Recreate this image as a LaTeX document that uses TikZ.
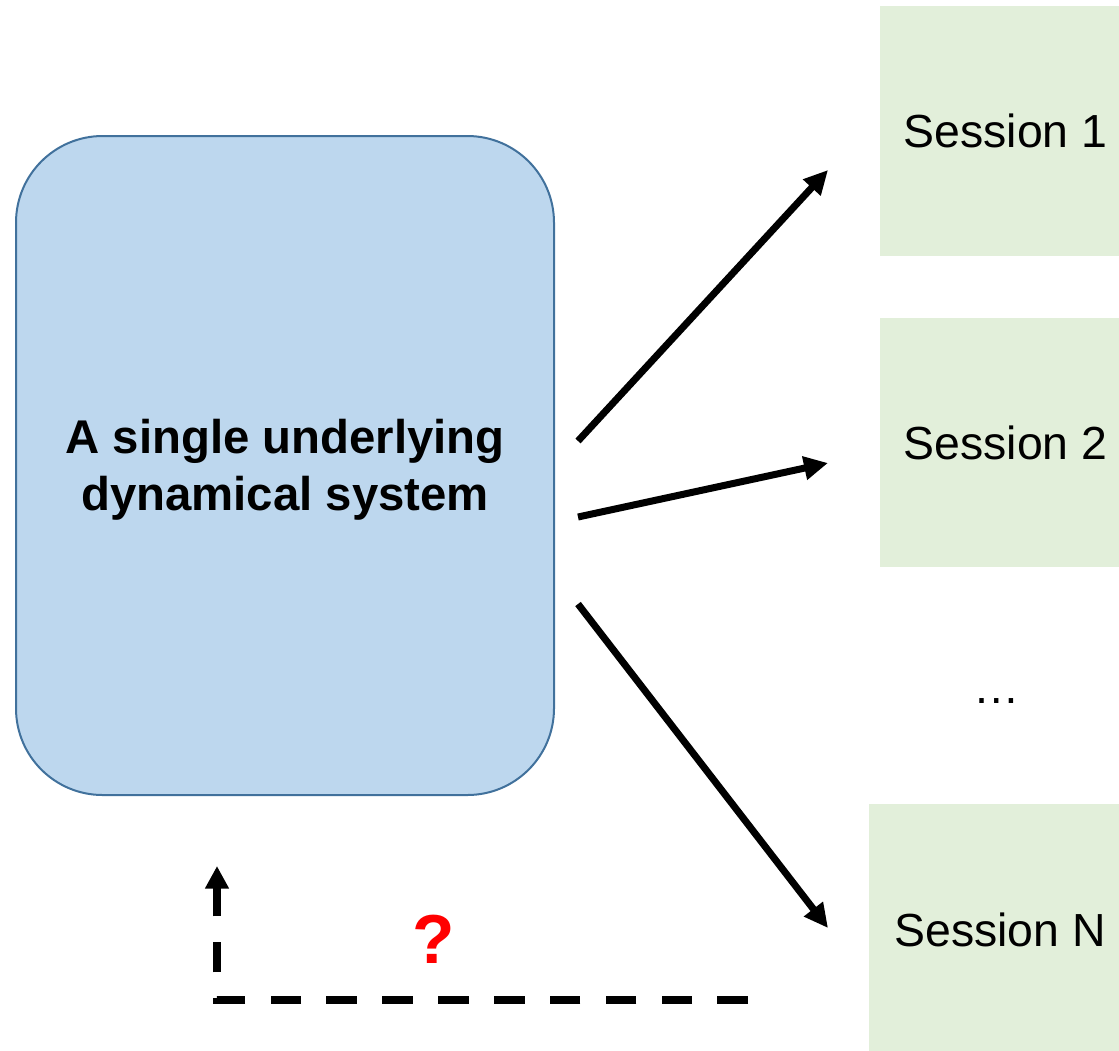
\documentclass[tikz,border=0pt]{standalone}
\usepackage{fontspec}
\setmainfont{Liberation Sans}
\usetikzlibrary{arrows.meta}
\definecolor{sysfill}{HTML}{BDD7EE}
\definecolor{sysdraw}{HTML}{41719C}
\definecolor{sessfill}{HTML}{E2EFDA}
\definecolor{qred}{HTML}{FF0000}
\tikzset{
  sysbox/.style={rectangle, rounded corners=65pt, fill=sysfill, draw=sysdraw, line width=1.5pt,
    minimum width=403.5pt, minimum height=494.25pt, inner sep=0pt},
  systext/.style={align=center, inner sep=0pt,
    font=\fontsize{35.5}{42.75}\selectfont\bfseries},
  sessbox/.style={rectangle, fill=sessfill, draw=none, inner sep=0pt,
    font=\fontsize{34.8}{41}\selectfont},
  sessarrow/.style={line width=5.25pt, -{Triangle[length=18pt,width=17pt]}},
  backarrow/.style={line width=6pt, dash pattern=on 22.9pt off 19pt, -{Triangle[length=17pt,width=17pt]}},
}
\begin{document}
\begin{tikzpicture}[x=0.75pt,y=-0.75pt]
\useasboundingbox (0,0) rectangle (1119,1050);
\clip (0,0) rectangle (1119,1050);
\node[sysbox] (sys) at (285,465.5) {};
\node[systext] (systxt) at (285,470) {A single underlying\\dynamical system};
\node[sessbox, minimum width=188.25pt, minimum height=187.5pt] (s1) at (1005.5,131) {Session 1};
\node[sessbox, minimum width=188.25pt, minimum height=186.75pt] (s2) at (1005.5,442.5) {Session 2};
\node[sessbox, minimum width=196.5pt, minimum height=189pt] (sN) at (1000,930) {Session N};
\node[font=\fontsize{34.8}{41}\selectfont, anchor=base, inner sep=0pt] (dots) at (997,703) {…};
\coordinate (a1s) at (578,441);
\coordinate (a1e) at (828,170);
\coordinate (a2s) at (578,517);
\coordinate (a2e) at (828,463);
\coordinate (a3s) at (578,604);
\coordinate (a3e) at (828,928);
\draw[sessarrow] (a1s) -- (a1e);
\draw[sessarrow] (a2s) -- (a2e);
\draw[sessarrow] (a3s) -- (a3e);
\coordinate (fbs) at (748,1000);
\coordinate (fbc) at (217,1000);
\coordinate (fbe) at (217,866);
\draw[backarrow] (fbs) -- (fbc) -- (fbe);
\node[text=qred, font=\fontsize{52}{60}\selectfont\bfseries, inner sep=0pt] (q) at (434,939) {?};
\end{tikzpicture}
\end{document}
